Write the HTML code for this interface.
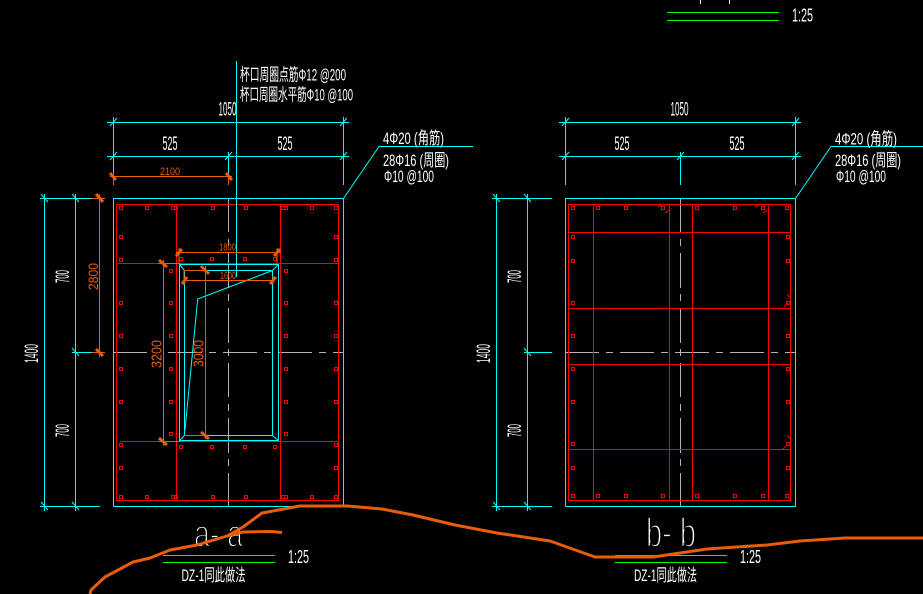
<!DOCTYPE html>
<html lang="zh">
<head>
<meta charset="utf-8">
<title>a-a b-b section</title>
<style>
html,body{margin:0;padding:0;background:#000;width:923px;height:594px;overflow:hidden}
svg{display:block}
text{font-family:"Liberation Sans","Noto Sans CJK SC",sans-serif;fill:#fff}
.o{fill:#e85c0a}
.l{fill:none;shape-rendering:crispEdges}
.t{stroke:#000;stroke-width:1.8px}
</style>
</head>
<body>
<svg width="923" height="594" viewBox="0 0 923 594" xmlns="http://www.w3.org/2000/svg">
<rect width="923" height="594" fill="#000"/>

<!-- gray centre lines -->
<g class="l" stroke="#b4b4b4" stroke-width="1">
  <path d="M228.500 198V232M228.500 239V246M228.500 253V288M228.500 294V301M228.500 308V343M228.500 349V356M228.500 363V397M228.500 404V411M228.500 418V453M228.500 459V466M228.500 473V506"/>
  <path d="M113 352.500H147M168 352.500H202M209 352.500H216M223 352.500H257M264 352.500H271M278 352.500H312M319 352.500H326M333 352.500H343"/>
  <path d="M680.500 198V232M680.500 239V246M680.500 253V288M680.500 294V301M680.500 308V343M680.500 349V356M680.500 363V397M680.500 404V411M680.500 418V453M680.500 459V466M680.500 473V506"/>
  <path d="M565 352.500H599M606 352.500H613M620 352.500H654M661 352.500H668M675 352.500H709M716 352.500H723M730 352.500H764M771 352.500H778M785 352.500H795"/>
</g>

<!-- red rebar -->
<g class="l" stroke="#ff0000" stroke-width="1">
  <rect x="116.500" y="204.500" width="222" height="296"/>
  <path d="M176.500 204V500M280.500 204V500M118 263.500H338M120 441.500H338"/>
  <rect x="568.500" y="204.500" width="222" height="296"/>
  <path d="M593.500 204V500M669.500 204V500M692.500 204V500M768.500 204V500M568 232.500H790M568 308.500H790M568 364.500H790M568 449.500H790"/>
</g>
<path fill="none" stroke="#ff0000" stroke-width="1" d="
M119.500 206.500h3v3h-3zM145.500 206.500h3v3h-3zM171.500 206.500h3v3h-3zM174.500 206.500h3v3h-3zM211.500 206.500h3v3h-3zM244.500 206.500h3v3h-3zM281.500 206.500h3v3h-3zM284.500 206.500h3v3h-3zM310.500 206.500h3v3h-3zM334.500 206.500h3v3h-3z
M119.500 495.500h3v3h-3zM145.500 495.500h3v3h-3zM171.500 495.500h3v3h-3zM174.500 495.500h3v3h-3zM211.500 495.500h3v3h-3zM244.500 495.500h3v3h-3zM281.500 495.500h3v3h-3zM284.500 495.500h3v3h-3zM310.500 495.500h3v3h-3zM334.500 495.500h3v3h-3z
M119.500 235.500h3v3h-3zM119.500 258.500h3v3h-3zM119.500 301.500h3v3h-3zM119.500 334.500h3v3h-3zM119.500 367.500h3v3h-3zM119.500 400.500h3v3h-3zM119.500 443.500h3v3h-3zM119.500 466.500h3v3h-3z
M334.500 235.500h3v3h-3zM334.500 258.500h3v3h-3zM334.500 301.500h3v3h-3zM334.500 334.500h3v3h-3zM334.500 367.500h3v3h-3zM334.500 400.500h3v3h-3zM334.500 443.500h3v3h-3zM334.500 466.500h3v3h-3z
M169.500 269.500h3v3h-3zM169.500 301.500h3v3h-3zM169.500 334.500h3v3h-3zM169.500 367.500h3v3h-3zM169.500 400.500h3v3h-3zM169.500 432.500h3v3h-3z
M284.500 269.500h3v3h-3zM284.500 301.500h3v3h-3zM284.500 334.500h3v3h-3zM284.500 367.500h3v3h-3zM284.500 400.500h3v3h-3zM284.500 432.500h3v3h-3z
M179.500 257.500h3v3h-3zM210.500 257.500h3v3h-3zM243.500 257.500h3v3h-3zM273.500 257.500h3v3h-3z
M179.500 445.500h3v3h-3zM210.500 445.500h3v3h-3zM243.500 445.500h3v3h-3zM273.500 445.500h3v3h-3z
M571.500 206.500h3v3h-3zM596.500 206.500h3v3h-3zM624.500 206.500h3v3h-3zM661.500 206.500h3v3h-3zM695.500 206.500h3v3h-3zM733.500 206.500h3v3h-3zM761.500 206.500h3v3h-3zM785.500 206.500h3v3h-3z
M571.500 494.500h3v3h-3zM596.500 494.500h3v3h-3zM624.500 494.500h3v3h-3zM661.500 494.500h3v3h-3zM695.500 494.500h3v3h-3zM733.500 494.500h3v3h-3zM761.500 494.500h3v3h-3zM785.500 494.500h3v3h-3z
M571.500 235.500h3v3h-3zM571.500 259.500h3v3h-3zM571.500 301.500h3v3h-3zM571.500 334.500h3v3h-3zM571.500 367.500h3v3h-3zM571.500 400.500h3v3h-3zM571.500 442.500h3v3h-3zM571.500 466.500h3v3h-3z
M786.500 235.500h3v3h-3zM786.500 259.500h3v3h-3zM786.500 301.500h3v3h-3zM786.500 334.500h3v3h-3zM786.500 367.500h3v3h-3zM786.500 400.500h3v3h-3zM786.500 442.500h3v3h-3zM786.500 466.500h3v3h-3z"/>
<!-- rebar hooks -->
<path fill="none" stroke="#ff0000" stroke-width="1" d="M658 207L662 204.500M665 213L669 210M756 207L760 204.500M763 213L767 210M787 294L790 298M784 307L788 303M787 435L790 439M783 449L787 445"/>

<!-- cyan outlines and dims -->
<g class="l" stroke="#00ffff" stroke-width="1">
  <rect x="113.500" y="198.500" width="230" height="308"/>
  <rect x="565.500" y="198.500" width="230" height="308"/>
  <rect x="179.500" y="264.500" width="99" height="176"/>
  <path d="M184.500 270.500V435.500H272.500V270.500H205"/>
  <path d="M236.500 61V277"/>
  <!-- left top dims -->
  <path d="M107 122.500H349M107 156.500H349M113.500 117V173M343.500 117V185M228.500 152V173"/>
  <!-- left side dims -->
  <path d="M40 198.500H100M40 506.500H100M72 352.500H100M44.500 194V511M75.500 194V511"/>
  <!-- right top dims -->
  <path d="M559 122.500H801M559 156.500H801M565.500 117V185M795.500 117V185M680.500 152V185"/>
  <!-- right side dims -->
  <path d="M492 198.500H552M492 506.500H552M524 352.500H552M496.500 194V511M527.500 194V511"/>
  <path d="M379 146.500H473M831 146.500H923"/>
</g>
<g fill="none" stroke="#00ffff" stroke-width="1">
  <path d="M343.500 198.500L379 146.500M795.500 198.500L831 146.500"/>
  <path d="M272.500 270.500L197.700 299L185 430"/>
  <path d="M179.500 264.500L184.500 270.500M278.500 264.500L272.500 270.500M179.500 440.500L184.500 435.500M278.500 440.500L272.500 435.500"/>
  <!-- ticks -->
  <path d="M110 126L117 118M340 126L347 118M110 160L117 152M225 160L232 152M340 160L347 152
           M562 126L569 118M792 126L799 118M562 160L569 152M677 160L684 152M792 160L799 152
           M41 194L48 202M72 194L79 202M72 348L79 356M41 502L48 510M72 502L79 510
           M493 194L500 202M524 194L531 202M524 348L531 356M493 502L500 510M524 502L531 510"/>
</g>

<!-- orange dims -->
<g class="l" stroke="#e85c0a" stroke-width="1">
  <path d="M110 176.500H232M113.500 173V185M228.500 173V185"/>
  <path d="M99.500 194V357M92 198.500H105M92 352.500H105"/>
  <path d="M163.500 260V446M158 263.500H180M158 441.500H180"/>
  <path d="M205.500 266V439M184 270.500H205M184 435.500H205"/>
  <path d="M176 252.500H281M184 280.500H274M179 248V263M277 248V263M184 270V285M273 276V285"/>
</g>
<g fill="none" stroke="#e85c0a" stroke-width="3">
  <path d="M110 173L116 180M226 173L232 180M96 194L103 202M96 349L103 356M159 260L167 267M159 438L167 445M201 266L209 274M201 432L209 439M176 256L182 249M274 256L280 249M182 284L187 277M270 284L276 277"/>
</g>

<!-- white labels -->
<text x="240" y="80.500" font-size="17" textLength="106" lengthAdjust="spacingAndGlyphs">杯口周圈点筋Φ12 @200</text>
<text x="240" y="100.500" font-size="17" textLength="113" lengthAdjust="spacingAndGlyphs">杯口周圈水平筋Φ10 @100</text>
<text x="218.500" y="115.500" font-size="19" textLength="18" lengthAdjust="spacingAndGlyphs">1050</text>
<text x="162.500" y="150" font-size="19" textLength="15" lengthAdjust="spacingAndGlyphs">525</text>
<text x="277.500" y="150" font-size="19" textLength="15" lengthAdjust="spacingAndGlyphs">525</text>
<text x="383" y="144" font-size="17" textLength="61" lengthAdjust="spacingAndGlyphs">4Φ20 (角筋)</text>
<text x="383" y="166" font-size="17" textLength="66" lengthAdjust="spacingAndGlyphs">28Φ16 (周圈)</text>
<text x="384" y="182" font-size="17" textLength="50" lengthAdjust="spacingAndGlyphs">Φ10 @100</text>

<text x="670.500" y="115.500" font-size="19" textLength="18" lengthAdjust="spacingAndGlyphs">1050</text>
<text x="614.500" y="150" font-size="19" textLength="15" lengthAdjust="spacingAndGlyphs">525</text>
<text x="729.500" y="150" font-size="19" textLength="15" lengthAdjust="spacingAndGlyphs">525</text>
<text x="835" y="144.500" font-size="17" textLength="62" lengthAdjust="spacingAndGlyphs">4Φ20 (角筋)</text>
<text x="835" y="166" font-size="17" textLength="66" lengthAdjust="spacingAndGlyphs">28Φ16 (周圈)</text>
<text x="836" y="182" font-size="17" textLength="50" lengthAdjust="spacingAndGlyphs">Φ10 @100</text>

<text transform="translate(69,283) rotate(-90)" font-size="19" textLength="13" lengthAdjust="spacingAndGlyphs">700</text>
<text transform="translate(69,437) rotate(-90)" font-size="19" textLength="13" lengthAdjust="spacingAndGlyphs">700</text>
<text transform="translate(38,363) rotate(-90)" font-size="19" textLength="19" lengthAdjust="spacingAndGlyphs">1400</text>
<text transform="translate(521,283) rotate(-90)" font-size="19" textLength="13" lengthAdjust="spacingAndGlyphs">700</text>
<text transform="translate(521,437) rotate(-90)" font-size="19" textLength="13" lengthAdjust="spacingAndGlyphs">700</text>
<text transform="translate(490,363) rotate(-90)" font-size="19" textLength="19" lengthAdjust="spacingAndGlyphs">1400</text>

<!-- orange labels -->
<text class="o" x="160" y="175" font-size="11" textLength="20" lengthAdjust="spacingAndGlyphs">2100</text>
<text class="o" x="219" y="250.500" font-size="10" textLength="17" lengthAdjust="spacingAndGlyphs">1800</text>
<text class="o" x="220" y="279" font-size="10" textLength="16" lengthAdjust="spacingAndGlyphs">1600</text>
<text class="o" transform="translate(98,290) rotate(-90)" font-size="14" textLength="27" lengthAdjust="spacingAndGlyphs">2800</text>
<text class="o" transform="translate(161.500,368) rotate(-90)" font-size="15" textLength="28" lengthAdjust="spacingAndGlyphs">3200</text>
<text class="o" transform="translate(203.500,367) rotate(-90)" font-size="15" textLength="27" lengthAdjust="spacingAndGlyphs">3000</text>

<!-- green title lines -->
<g class="l" stroke="#00ff00" stroke-width="1">
  <path d="M163 555.500H275M163 562.500H275M615 555.500H727M615 562.500H727M667 12.500H779M667 20.500H779"/>
</g>
<path class="l" stroke="#fff" d="M700.500 0V4M729.500 0V4"/>

<!-- titles -->
<text class="t" x="194" y="546.500" font-size="38" textLength="49" lengthAdjust="spacingAndGlyphs">a- a</text>
<text class="t" x="646" y="546.500" font-size="41" textLength="50" lengthAdjust="spacingAndGlyphs">b- b</text>
<text x="181.500" y="581" font-size="17" textLength="64" lengthAdjust="spacingAndGlyphs">DZ-1同此做法</text>
<text x="634" y="581" font-size="17" textLength="63" lengthAdjust="spacingAndGlyphs">DZ-1同此做法</text>
<text x="288" y="563" font-size="18" textLength="21" lengthAdjust="spacingAndGlyphs">1:25</text>
<text x="740" y="563" font-size="18" textLength="21" lengthAdjust="spacingAndGlyphs">1:25</text>
<text x="792" y="21.500" font-size="18" textLength="21" lengthAdjust="spacingAndGlyphs">1:25</text>

<!-- hand drawn orange strokes -->
<g fill="none" stroke="#e85c0a" stroke-width="3" stroke-linejoin="round">
  <path d="M90 594L91 590L105 577L120 569L133 562L150 558L170 550L197 545L227 536L243 527L262 513L300 506L347 506L382 509L413 515L455 525L497 533L550 541L595 557L653 557L680 553L707 549L767 545L800 541L845 538L923 538"/>
  <path d="M227 536L243 532L272 531.500L282 532.500"/>
</g>
</svg>
</body>
</html>
